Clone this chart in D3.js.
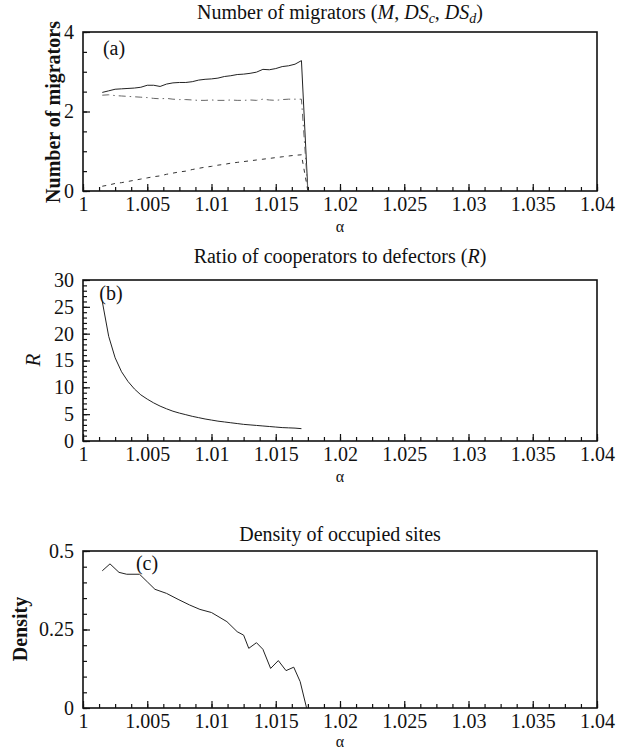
<!DOCTYPE html>
<html>
<head>
<meta charset="utf-8">
<script src="https://cdn.jsdelivr.net/npm/d3@7"></script>
<style>
  body { margin: 0; background: #fff; }
  svg text { font-family: "Liberation Serif", "DejaVu Serif", serif; fill: #111; }
</style>
</head>
<body>
<svg id="chart" width="628" height="751"></svg>
<script>
// alpha grid used by panels (a) and (b)
const alpha = [1.0015,1.002,1.0025,1.003,1.0035,1.004,1.0045,1.005,1.0055,1.006,1.0065,1.007,1.0075,1.008,1.0085,1.009,
               1.0095,1.01,1.0105,1.011,1.0115,1.012,1.0125,1.013,1.0135,1.014,1.0145,1.015,1.0155,1.016,1.0165,1.017,1.0175]

// (a) number of migrators
const migM   = [2.48,2.52,2.56,2.57,2.58,2.59,2.61,2.66,2.66,2.63,2.69,2.72,2.73,2.73,2.75,2.79,
                2.81,2.82,2.84,2.88,2.90,2.93,2.94,2.96,2.99,3.06,3.05,3.08,3.13,3.15,3.19,3.28,0]
const migDSc = [2.41,2.42,2.40,2.39,2.38,2.37,2.36,2.35,2.33,2.32,2.33,2.31,2.30,2.30,2.29,2.28,
                2.28,2.29,2.28,2.28,2.29,2.28,2.28,2.29,2.28,2.31,2.29,2.28,2.30,2.31,2.31,2.31,0]
const migDSd = [0.12,0.15,0.19,0.21,0.24,0.27,0.30,0.33,0.36,0.38,0.42,0.45,0.48,0.50,0.54,0.57,
                0.60,0.62,0.65,0.67,0.70,0.72,0.74,0.76,0.78,0.80,0.82,0.84,0.86,0.88,0.90,0.91,0]

// (b) ratio of cooperators to defectors (stops at 1.017)
const ratioR = [26.0,19.5,15.5,12.9,11.1,9.7,8.6,7.8,7.1,6.5,6.0,5.55,5.2,4.9,4.6,4.35,
                4.1,3.9,3.7,3.55,3.4,3.25,3.1,3.0,2.9,2.8,2.7,2.6,2.5,2.45,2.4,2.3]

// (c) density of occupied sites
const densAlpha = [1.0015,1.0021,1.0028,1.0034,1.0044,1.0050,1.0056,1.0065,1.0074,1.0083,1.0091,1.0100,
                   1.0112,1.0120,1.0125,1.0129,1.0135,1.0140,1.0146,1.0152,1.0158,1.0164,1.0169,1.0174]
const density   = [0.437,0.459,0.432,0.426,0.426,0.402,0.378,0.365,0.346,0.328,0.314,0.304,
                   0.275,0.243,0.232,0.190,0.208,0.187,0.126,0.151,0.119,0.130,0.084,0]

const xTicks = [1,1.005,1.01,1.015,1.02,1.025,1.03,1.035,1.04]
const xTickLabels = ["1","1.005","1.01","1.015","1.02","1.025","1.03","1.035","1.04"]

const svg = d3.select("#chart")
const left = 83, right = 597
const x = d3.scaleLinear().domain([1, 1.04]).range([left, right])
const xMinor = d3.range(1, 1.04001, 0.00125)

function panel(top, bottom, yMax, yTicks, yTickLabels, yMinorStep) {
  const y = d3.scaleLinear().domain([0, yMax]).range([bottom, top])
  const g = svg.append("g")

  g.append("g").attr("transform", `translate(0,${bottom})`)
    .call(d3.axisBottom(x).tickValues(xMinor).tickSizeInner(-4).tickSizeOuter(0).tickFormat(""))
  g.append("g").attr("class", "xmaj").attr("transform", `translate(0,${bottom})`)
    .call(d3.axisBottom(x).tickValues(xTicks).tickSizeInner(-7).tickSizeOuter(0).tickPadding(6)
      .tickFormat((d, i) => xTickLabels[i]))

  g.append("g").attr("transform", `translate(${left},0)`)
    .call(d3.axisLeft(y).tickValues(d3.range(0, yMax + 1e-9, yMinorStep)).tickSizeInner(-4).tickSizeOuter(0).tickFormat(""))
  g.append("g").attr("class", "ymaj").attr("transform", `translate(${left},0)`)
    .call(d3.axisLeft(y).tickValues(yTicks).tickSizeInner(-7).tickSizeOuter(0).tickPadding(9)
      .tickFormat((d, i) => yTickLabels[i]))

  // drop d3's default sans-serif axis font
  g.selectAll("g").attr("font-family", null).attr("font-size", null)
  g.selectAll(".domain").remove()
  g.selectAll(".tick line").attr("stroke", "#111").attr("stroke-width", 1.2)
  g.selectAll(".xmaj text").attr("font-size", 20).attr("fill", "#111")
  g.selectAll(".ymaj text").attr("font-size", 20).attr("fill", "#111")

  g.append("rect")
    .attr("x", left).attr("y", top)
    .attr("width", right - left).attr("height", bottom - top)
    .attr("fill", "none").attr("stroke", "#111").attr("stroke-width", 1.6)

  g.append("text")
    .attr("x", (left + right) / 2).attr("y", Math.min(bottom + 41, 747))
    .attr("text-anchor", "middle").attr("font-size", 16)
    .text("α")

  return { g, y }
}

function drawLine(g, y, xs, ys, stroke, dash) {
  const line = d3.line().x(d => x(d[0])).y(d => y(d[1]))
  g.append("path")
    .datum(d3.zip(xs, ys))
    .attr("d", line)
    .attr("fill", "none")
    .attr("stroke", stroke)
    .attr("stroke-width", 1)
    .attr("stroke-dasharray", dash)
}

// ---- panel (a)
const pa = panel(32, 191, 4, [0, 2, 4], ["0", "2", "4"], 0.5)
drawLine(pa.g, pa.y, alpha, migM, "#222", null)
drawLine(pa.g, pa.y, alpha, migDSc, "#666", "7,4,1.5,4")
drawLine(pa.g, pa.y, alpha, migDSd, "#333", "4,5")

const ta = svg.append("text").attr("x", 340).attr("y", 19).attr("text-anchor", "middle").attr("font-size", 20)
ta.append("tspan").text("Number of migrators (")
ta.append("tspan").attr("font-style", "italic").text("M")
ta.append("tspan").text(", ")
ta.append("tspan").attr("font-style", "italic").text("DS")
ta.append("tspan").attr("font-style", "italic").attr("font-size", 14).attr("dy", 4).text("c")
ta.append("tspan").attr("dy", -4).text(", ")
ta.append("tspan").attr("font-style", "italic").text("DS")
ta.append("tspan").attr("font-style", "italic").attr("font-size", 14).attr("dy", 4).text("d")
ta.append("tspan").attr("dy", -4).text(")")

svg.append("text").attr("transform", "translate(60,112) rotate(-90)")
  .attr("text-anchor", "middle").attr("font-size", 20).attr("font-weight", "bold")
  .text("Number of migrators")
svg.append("text").attr("x", 114).attr("y", 55).attr("text-anchor", "middle").attr("font-size", 20).text("(a)")

// ---- panel (b)
const pb = panel(280, 441, 30, [0, 5, 10, 15, 20, 25, 30], ["0", "5", "10", "15", "20", "25", "30"], 1)
drawLine(pb.g, pb.y, alpha.slice(0, ratioR.length), ratioR, "#222", null)

const tb = svg.append("text").attr("x", 340).attr("y", 263).attr("text-anchor", "middle").attr("font-size", 20)
tb.append("tspan").text("Ratio of cooperators to defectors (")
tb.append("tspan").attr("font-style", "italic").text("R")
tb.append("tspan").text(")")

svg.append("text").attr("transform", "translate(40,360) rotate(-90)")
  .attr("text-anchor", "middle").attr("font-size", 21).attr("font-style", "italic")
  .text("R")
svg.append("text").attr("x", 111).attr("y", 300).attr("text-anchor", "middle").attr("font-size", 20).text("(b)")

// ---- panel (c)
const pc = panel(551, 708, 0.5, [0, 0.25, 0.5], ["0", "0.25", "0.5"], 0.05)
drawLine(pc.g, pc.y, densAlpha, density, "#222", null)

svg.append("text").attr("x", 340).attr("y", 541).attr("text-anchor", "middle").attr("font-size", 20)
  .text("Density of occupied sites")
svg.append("text").attr("transform", "translate(27,629) rotate(-90)")
  .attr("text-anchor", "middle").attr("font-size", 20).attr("font-weight", "bold")
  .text("Density")
svg.append("text").attr("x", 147).attr("y", 570).attr("text-anchor", "middle").attr("font-size", 20).text("(c)")
</script>
</body>
</html>
